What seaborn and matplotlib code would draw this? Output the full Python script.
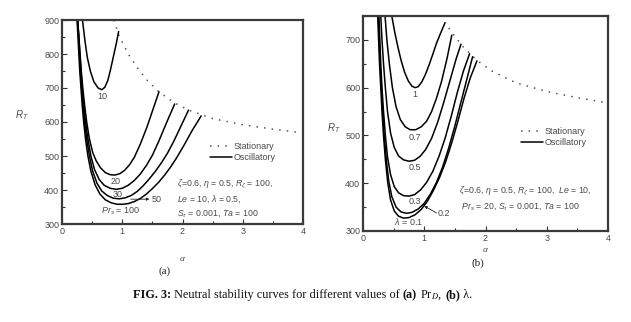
import numpy as np
import pandas as pd
import matplotlib
matplotlib.use("Agg")
import matplotlib.pyplot as plt
from matplotlib.ticker import MultipleLocator
import seaborn as sns

sns.set_theme(style="white")
plt.rcParams["font.family"] = ["Liberation Sans", "DejaVu Sans"]
plt.rcParams["mathtext.fontset"] = "custom"
plt.rcParams["mathtext.rm"] = "Liberation Sans"
plt.rcParams["mathtext.it"] = "Liberation Sans:italic"
plt.rcParams["mathtext.bf"] = "Liberation Sans:bold"

# ---- stationary neutral curve (shared by both panels) ----
stat_alpha = [0.86, 0.95, 1.1, 1.25, 1.4, 1.6, 1.85, 2.1, 2.5, 3.0, 3.5, 4.0]
stat_R = [900, 852, 800, 760, 725, 690, 658, 635, 610, 592, 579, 568]

# ---- panel (a): oscillatory curves for several Pr_D ----
pr_levels = ["10", "20", "30", "50", "100"]
pr_alpha = {
    "10": [0.34, 0.38, 0.42, 0.47, 0.53, 0.60, 0.66, 0.71, 0.76, 0.80, 0.85, 0.90, 0.94],
    "20": [0.26, 0.28, 0.30, 0.32, 0.345, 0.375, 0.41, 0.455, 0.51, 0.57, 0.64, 0.72,
           0.80, 0.88, 0.96, 1.04, 1.12, 1.20, 1.30, 1.41, 1.51, 1.61],
    "30": [0.26, 0.28, 0.295, 0.315, 0.335, 0.36, 0.39, 0.43, 0.48, 0.54, 0.62, 0.70,
           0.80, 0.90, 1.00, 1.10, 1.20, 1.30, 1.40, 1.50, 1.61, 1.74, 1.87],
    "50": [0.255, 0.275, 0.29, 0.305, 0.325, 0.35, 0.375, 0.41, 0.455, 0.51, 0.58, 0.66,
           0.75, 0.85, 0.95, 1.05, 1.15, 1.25, 1.35, 1.45, 1.55, 1.65, 1.75, 1.86,
           1.98, 2.10],
    "100": [0.25, 0.265, 0.28, 0.295, 0.315, 0.335, 0.36, 0.39, 0.43, 0.48, 0.55, 0.63,
            0.72, 0.82, 0.92, 1.00, 1.10, 1.20, 1.30, 1.40, 1.50, 1.60, 1.70, 1.80,
            1.90, 2.02, 2.16, 2.31],
}
pr_R = {
    "10": [900, 840, 790, 750, 718, 700, 695, 702, 722, 750, 790, 830, 866],
    "20": [900, 850, 800, 750, 700, 650, 600, 550, 510, 485, 465, 451,
           445, 444, 448, 458, 474, 496, 535, 585, 637, 689],
    "30": [900, 850, 800, 750, 700, 650, 600, 550, 500, 460, 430, 414,
           405, 402, 405, 414, 428, 447, 472, 502, 545, 600, 653],
    "50": [900, 850, 800, 750, 700, 650, 600, 550, 500, 455, 420, 397,
           384, 376, 374, 377, 384, 396, 413, 433, 455, 480, 508, 545,
           590, 635],
    "100": [900, 850, 800, 750, 700, 650, 600, 550, 500, 455, 415, 388,
            371, 362, 358, 358, 360, 366, 375, 388, 404, 422, 443, 467,
            494, 530, 575, 618],
}

# ---- panel (b): oscillatory curves for several lambda ----
lam_levels = ["1", "0.7", "0.5", "0.3", "0.2", "0.1"]
lam_alpha = {
    "1": [0.47, 0.52, 0.57, 0.62, 0.68, 0.74, 0.80, 0.85, 0.90, 0.96, 1.02, 1.08,
          1.14, 1.20, 1.27, 1.34],
    "0.7": [0.36, 0.39, 0.43, 0.48, 0.54, 0.61, 0.69, 0.77, 0.86, 0.95, 1.04, 1.12,
            1.20, 1.28, 1.37, 1.45],
    "0.5": [0.29, 0.31, 0.335, 0.365, 0.40, 0.45, 0.51, 0.58, 0.66, 0.75, 0.84, 0.93,
            1.02, 1.12, 1.22, 1.32, 1.42, 1.52, 1.60],
    "0.3": [0.26, 0.275, 0.29, 0.31, 0.335, 0.365, 0.40, 0.45, 0.51, 0.58, 0.66, 0.75,
            0.84, 0.94, 1.04, 1.14, 1.24, 1.34, 1.44, 1.54, 1.64, 1.74],
    "0.2": [0.25, 0.265, 0.28, 0.30, 0.32, 0.345, 0.38, 0.42, 0.47, 0.54, 0.62, 0.71,
            0.80, 0.90, 1.00, 1.10, 1.20, 1.30, 1.40, 1.50, 1.60, 1.70, 1.79],
    "0.1": [0.24, 0.255, 0.27, 0.29, 0.31, 0.335, 0.365, 0.405, 0.45, 0.51, 0.58, 0.66,
            0.75, 0.85, 0.95, 1.05, 1.15, 1.25, 1.35, 1.45, 1.55, 1.65, 1.75, 1.86],
}
lam_R = {
    "1": [750, 715, 685, 658, 632, 614, 603, 600, 602, 612, 628, 648,
          670, 693, 715, 736],
    "0.7": [750, 700, 650, 600, 560, 533, 518, 512, 512, 518, 530, 550,
            578, 612, 660, 710],
    "0.5": [750, 700, 650, 600, 550, 505, 475, 457, 449, 446, 448, 456,
            470, 494, 528, 570, 615, 660, 691],
    "0.3": [750, 700, 650, 600, 550, 500, 455, 418, 393, 380, 374, 373,
            376, 386, 402, 425, 456, 494, 540, 590, 635, 671],
    "0.2": [750, 700, 650, 600, 550, 500, 450, 405, 372, 350, 340, 337,
            339, 346, 358, 377, 402, 434, 474, 520, 570, 620, 665],
    "0.1": [750, 700, 650, 600, 550, 500, 450, 400, 365, 342, 331, 327,
            328, 334, 345, 362, 385, 412, 445, 485, 530, 578, 620, 656],
}

TXT = "#4a4a4a"


def build_frame(levels, alphas, Rs, ymax):
    rows = []
    for a, r in zip(stat_alpha, stat_R):
        if r <= ymax + 1:
            rows.append(("stat", "Stationary", a, r))
    for lev in levels:
        for a, r in zip(alphas[lev], Rs[lev]):
            rows.append((lev, "Oscillatory", a, r))
    return pd.DataFrame(rows, columns=["curve", "kind", "alpha", "R"])


def draw_panel(ax, df, ylim):
    sns.lineplot(data=df, x="alpha", y="R", units="curve", style="kind",
                 style_order=["Stationary", "Oscillatory"],
                 dashes={"Stationary": (1, 4), "Oscillatory": ""},
                 estimator=None, sort=False, color="black", lw=1.1, ax=ax)
    for line in ax.get_lines():
        if line.get_linestyle() != "-":
            line.set_color("#555555")
    ax.set_xlim(0, 4)
    ax.set_ylim(*ylim)
    ax.xaxis.set_major_locator(MultipleLocator(1))
    ax.xaxis.set_minor_locator(MultipleLocator(0.5))
    ax.yaxis.set_major_locator(MultipleLocator(100))
    ax.yaxis.set_minor_locator(MultipleLocator(50))
    ax.tick_params(which="both", direction="in", bottom=True, left=True,
                   top=False, right=False, colors="#333333",
                   labelcolor=TXT, labelsize=6.5, pad=2)
    ax.tick_params(which="major", length=3.5, width=0.8)
    ax.tick_params(which="minor", length=2, width=0.8)
    for s in ax.spines.values():
        s.set_color("#3a3a3a")
        s.set_linewidth(1.6)
    ax.set_xlabel(r"$\alpha$", color=TXT, fontsize=6)
    ax.set_ylabel(r"$R_T$", color=TXT, fontsize=7, rotation=0)
    return ax.get_legend_handles_labels()


fig = plt.figure(figsize=(6.31, 3.22), dpi=100)
ax_a = fig.add_axes([62 / 631, 1 - 224 / 322, 241 / 631, 204 / 322])
ax_b = fig.add_axes([363 / 631, 1 - 231 / 322, 245 / 631, 215 / 322])

leg_kw = dict(loc="upper left", frameon=False, fontsize=6.5, handlelength=2.4,
              handletextpad=0.2, labelspacing=0.25, labelcolor=TXT, borderaxespad=0)
lab_kw = dict(color=TXT, fontsize=6.5, ha="center", va="center")
arrow_kw = dict(arrowstyle="-|>", color="#222222", lw=0.6, mutation_scale=4,
                shrinkA=0, shrinkB=0)

# ---------- panel (a) ----------
df_a = build_frame(pr_levels, pr_alpha, pr_R, 900)
h, l = draw_panel(ax_a, df_a, (300, 900))
ax_a.legend(h, l, bbox_to_anchor=(0.6, 0.42), **leg_kw)
ax_a.yaxis.set_label_coords(-0.166, 0.5)
ax_a.xaxis.set_label_coords(0.502, -0.152)

ax_a.text(0.67, 674, "10", **lab_kw)
ax_a.text(0.89, 426, "20", **lab_kw)
ax_a.text(0.92, 388, "30", **lab_kw)
ax_a.annotate("", xy=(1.45, 373), xytext=(1.14, 373), arrowprops=arrow_kw)
ax_a.text(1.48, 373, "50", color=TXT, fontsize=6.5, ha="left", va="center")
ax_a.text(0.98, 338, r"$Pr_s$ = 100", **lab_kw)
ax_a.text(0.478, 0.228,
          "$\\zeta$=0.6, $\\eta$ = 0.5, $R_\\zeta$ = 100,\n"
          "$Le$ = 10, $\\lambda$ = 0.5,\n"
          "$S_\\tau$ = 0.001, $Ta$ = 100",
          transform=ax_a.transAxes, fontsize=6.3, color=TXT, va="top", ha="left",
          linespacing=1.35)

# ---------- panel (b) ----------
df_b = build_frame(lam_levels, lam_alpha, lam_R, 750)
h, l = draw_panel(ax_b, df_b, (300, 750))
ax_b.legend(h, l, bbox_to_anchor=(0.63, 0.5), **leg_kw)
ax_b.yaxis.set_label_coords(-0.12, 0.447)
ax_b.xaxis.set_label_coords(0.498, -0.07)

ax_b.text(0.85, 585, "1", **lab_kw)
ax_b.text(0.85, 496, "0.7", **lab_kw)
ax_b.text(0.85, 433, "0.5", **lab_kw)
ax_b.text(0.85, 362, "0.3", **lab_kw)
ax_b.annotate("", xy=(1.0, 352), xytext=(1.2, 338), arrowprops=arrow_kw)
ax_b.text(1.22, 336, "0.2", color=TXT, fontsize=6.5, ha="left", va="center")
ax_b.text(0.74, 320, r"$\lambda$ = 0.1", **lab_kw)
ax_b.text(0.39, 0.215,
          "$\\zeta$=0.6, $\\eta$ = 0.5, $R_\\zeta$ = 100,  $Le$ = 10,\n"
          " $Pr_s$ = 20, $S_\\tau$ = 0.001, $Ta$ = 100",
          transform=ax_b.transAxes, fontsize=6.3, color=TXT, va="top", ha="left",
          linespacing=1.45)

# ---------- panel tags ----------
fig.text(165 / 631, 1 - 271 / 322, "(a)", family="Liberation Serif", fontsize=8,
         ha="center", va="center", color="#222222")
fig.text(478 / 631, 1 - 263 / 322, "(b)", family="Liberation Serif", fontsize=8,
         ha="center", va="center", color="#222222")

# ---------- caption, laid out piece by piece ----------
pieces = [
    ("FIG. 3:", "bold", 0),
    (" Neutral stability curves for different values of ", "normal", 0),
    ("(a)", "bold", 0),
    (" Pr$_{D}$,", "normal", 3),
    ("(b)", "bold", 0),
    (" \u03bb.", "normal", 0),
]
renderer = fig.canvas.get_renderer()
x_px = 133.0
y_fig = 1 - 295 / 322
for txt, wt, gap in pieces:
    t = fig.text(x_px / 631, y_fig, txt, family="Liberation Serif", weight=wt,
                 math_fontfamily="stix", fontsize=8.8, ha="left", va="center",
                 color="#111111")
    bb = t.get_window_extent(renderer=renderer)
    x_px += bb.width + gap

fig.savefig("out.png", dpi=100)
